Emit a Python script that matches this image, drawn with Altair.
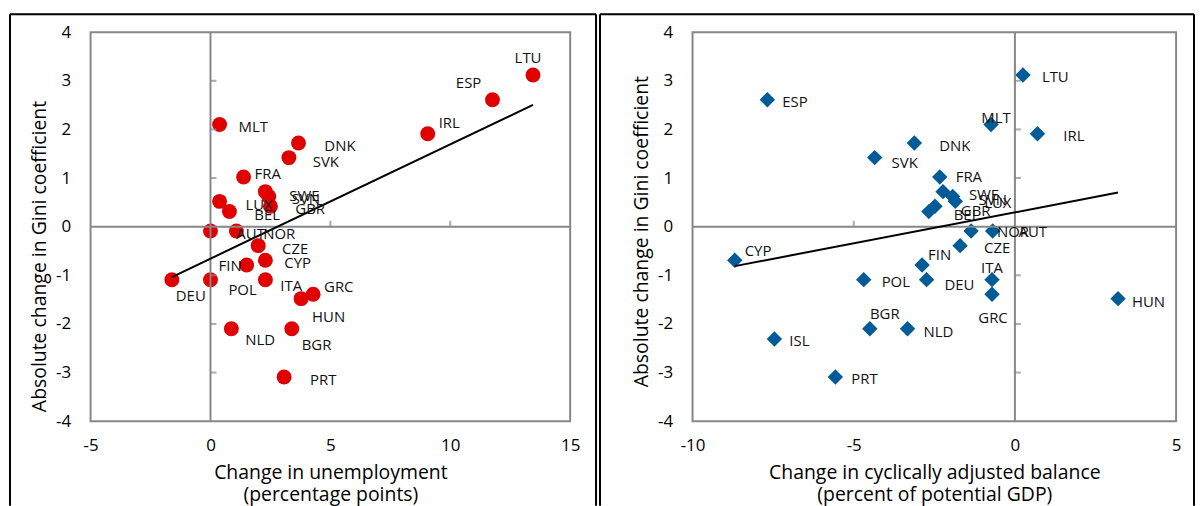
import altair as alt
import pandas as pd

FONT = "Open Sans"
RED = "#E00000"
BLUE = "#005B96"
GRAY = "#878787"

# ---------------- data ----------------
countries = ["LTU", "ESP", "IRL", "MLT", "DNK", "SVK", "FRA", "SWE", "SVN", "GBR",
             "LUX", "BEL", "AUT", "NOR", "CZE", "CYP", "FIN", "DEU", "POL", "ITA",
             "GRC", "HUN", "NLD", "BGR", "PRT", "ISL"]
gini_change = [3.12, 2.61, 1.91, 2.10, 1.72, 1.42, 1.02, 0.72, 0.62, 0.42,
               0.52, 0.31, -0.09, -0.09, -0.39, -0.69, -0.79, -1.09, -1.09, -1.09,
               -1.39, -1.48, -2.10, -2.10, -3.09, -2.31]
unemp_change = [13.45, 11.76, 9.06, 0.38, 3.67, 3.27, 1.38, 2.29, 2.43, 2.50,
                0.38, 0.79, 0.00, 1.08, 1.99, 2.29, 1.51, -1.61, 0.00, 2.29,
                4.28, 3.78, 0.87, 3.39, 3.07, None]
cab_change = [0.25, -7.68, 0.70, -0.74, -3.12, -4.35, -2.33, -2.23, -1.93, -2.48,
              -1.85, -2.67, -0.69, -1.36, -1.70, -8.69, -2.88, -2.74, -4.69, -0.71,
              -0.71, 3.20, -3.33, -4.50, -5.57, -7.46]

x_ticks_left = [-5, 0, 5, 10, 15]
x_ticks_right = [-10, -5, 0, 5]
y_ticks = [-4, -3, -2, -1, 0, 1, 2, 3, 4]

# label nudges (pixels) and alignment, per panel
l_dx = [-5, -24, 11, 19, 26, 24, 11, 24, 23, 25, 26, 25, 26, 27, 24, 19, -5, 19, 18, 15, 11, 11, 14, 10, 26, 0]
l_dy = [-17, -17, -11, 3, 3, 4, -3, 4, 3, 3, 4, 3, 3, 3, 3, 3, 1, 16, 10, 6, -7, 18, 11, 16, 3, 0]
l_al = ["center", "center"] + ["left"] * 14 + ["right", "center"] + ["left"] * 8
r_dx = [19, 15, 26, 5, 25, 17, 16, 26, 26, 26, 29, 25, 26, 26, 24, 10, 6, 18, 18, 0, 1, 14, 16, 15, 16, 15]
r_dy = [2, 2, 2, -7, 3, 5, 0, 3, 4, 5, 2, 3, 1, 1, 2, -9, -10, 5, 2, -12, 24, 3, 3, -15, 2, 2]
r_al = ["left"] * 3 + ["center"] + ["left"] * 15 + ["center", "center"] + ["left"] * 2 + ["center"] + ["left"] * 2

df = pd.DataFrame({
    "country": countries, "gini": gini_change, "unemp": unemp_change, "cab": cab_change,
    "l_dx": l_dx, "l_dy": l_dy, "l_al": l_al,
    "r_dx": r_dx, "r_dy": r_dy, "r_al": r_al,
})

H = 391
YTITLE = "Absolute change in Gini coefficient"
PLAIN = "'' + datum.value"


def panel(xfield, xdom, xticks, W, xtitle, color, shape, size, pre, up_ticks, ytitle_y, left_border, right_border):
    d = df[df[xfield].notna()].reset_index(drop=True)
    xs = alt.Scale(domain=xdom, nice=False, zero=False)
    ys = alt.Scale(domain=[-4, 4], nice=False, zero=False)
    xa = alt.Axis(values=xticks, title=xtitle, titleLineHeight=22, titlePadding=11,
                  labelPadding=16, labelExpr=PLAIN)
    ya = alt.Axis(values=y_ticks, title=YTITLE, titleY=ytitle_y, titlePadding=6,
                  labelPadding=20, labelExpr=PLAIN)
    ux = (xdom[1] - xdom[0]) / W
    uy = 8 / H

    def X(f):
        return alt.X(f, scale=xs, axis=xa)

    def Y(f):
        return alt.Y(f, scale=ys, axis=ya)

    base = alt.Chart(d)
    pts = base.mark_point(filled=True, shape=shape, size=size, color=color, opacity=1).encode(
        x=X(f"{xfield}:Q"), y=Y("gini:Q"))

    reg = base.transform_regression(xfield, "gini").mark_line(color="black", strokeWidth=2).encode(
        x=X(f"{xfield}:Q"), y=Y("gini:Q"))

    zero_df = pd.DataFrame({"z": [0]})
    vline = alt.Chart(zero_df).mark_rule(color=GRAY, strokeWidth=2).encode(x=X("z:Q"))
    hline = alt.Chart(zero_df).mark_rule(color=GRAY, strokeWidth=2).encode(y=Y("z:Q"))

    yt_df = pd.DataFrame({"t": [v for v in y_ticks if v not in (-4, 0, 4)], "z": 0})
    yt = alt.Chart(yt_df).mark_tick(orient="horizontal", size=6, thickness=2, xOffset=3,
                                    color=GRAY).encode(x=X("z:Q"), y=Y("t:Q"))
    xt_df = pd.DataFrame({"t": up_ticks, "z": 0})
    xt = alt.Chart(xt_df).mark_tick(orient="vertical", size=6, thickness=2, yOffset=-3,
                                    color=GRAY).encode(x=X("t:Q"), y=Y("z:Q"))

    labels = []
    for al in ["left", "center", "right"]:
        labels.append(
            base.transform_filter(alt.datum[f"{pre}_al"] == al)
            .transform_calculate(lx=f"datum.{xfield} + datum.{pre}_dx * {ux}",
                                 ly=f"datum.gini - datum.{pre}_dy * {uy}")
            .mark_text(align=al, baseline="middle", font=FONT, fontSize=15, color="#111111")
            .encode(x=X("lx:Q"), y=Y("ly:Q"), text="country:N")
        )

    one = pd.DataFrame({"a": [0]})
    borders = [
        alt.Chart(one).mark_rule(color="black", strokeWidth=2, clip=False).encode(
            x=alt.value(left_border), y=alt.value(-18), y2=alt.value(476)),
        alt.Chart(one).mark_rule(color="black", strokeWidth=2, clip=False).encode(
            x=alt.value(left_border), x2=alt.value(right_border), y=alt.value(-18)),
    ]
    if right_border <= W + 30:
        borders.append(
            alt.Chart(one).mark_rule(color="black", strokeWidth=2, clip=False).encode(
                x=alt.value(right_border), y=alt.value(-18), y2=alt.value(476)))

    return alt.layer(pts, vline, hline, yt, xt, reg, *labels, *borders).properties(width=W, height=H)


WL, WR = 482, 486
left = panel("unemp", [-5, 15], x_ticks_left, WL,
             ["Change in unemployment", "(percentage points)"],
             RED, "circle", 225, "l", [5, 10], 225, -81, WL + 26)
right = panel("cab", [-10, 5], x_ticks_right, WR,
              ["Change in cyclically adjusted balance", "(percent of potential GDP)"],
              BLUE, "diamond", 240, "r", [-5], 200, -93, WR + 18)

chart = alt.hconcat(left, right, spacing=0).properties(
    padding={"left": 0, "top": 3, "right": 0, "bottom": 0},
    background="white",
).configure_view(stroke=GRAY, strokeWidth=2).configure_axis(
    labelFont=FONT, labelFontSize=17, labelColor="black",
    titleFont=FONT, titleFontSize=19.5, titleFontWeight="normal", titleColor="black",
    domain=False, ticks=False, tickSize=0, grid=False,
    labelFlush=False, labelOverlap=False,
)

chart.save("out.html", embed_options={"renderer": "svg", "actions": False})
